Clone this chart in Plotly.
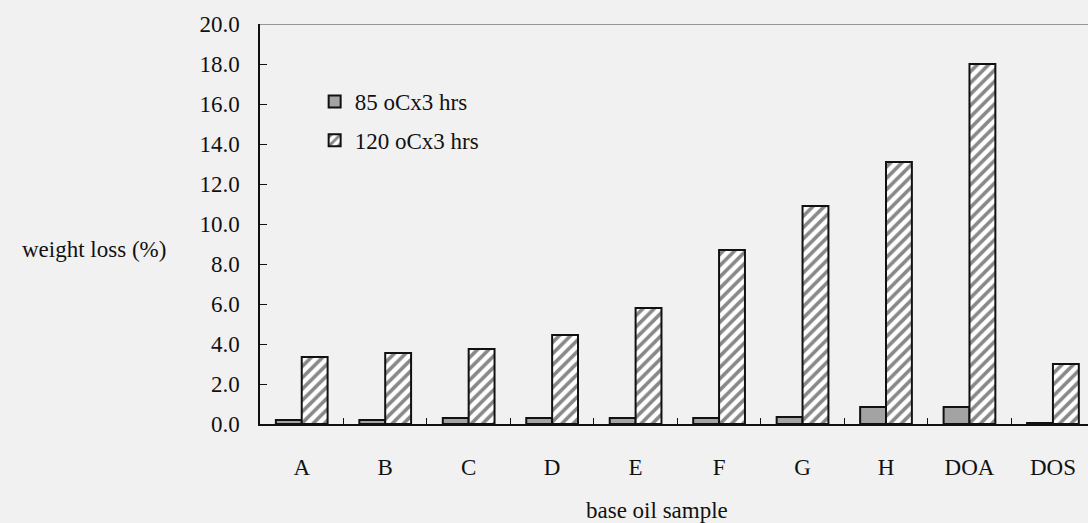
import plotly.graph_objects as go

samples = ["A", "B", "C", "D", "E", "F", "G", "H", "DOA", "DOS"]
loss_85 = [0.2, 0.2, 0.3, 0.3, 0.3, 0.3, 0.35, 0.85, 0.85, 0.05]
loss_120 = [3.35, 3.55, 3.75, 4.45, 5.8, 8.7, 10.9, 13.1, 18.0, 3.0]
y_ticks = [0, 2, 4, 6, 8, 10, 12, 14, 16, 18, 20]

FONT = "Liberation Serif"
FS = 23
BG = "#f1f1f1"
INK = "#111111"

fig = go.Figure()
fig.add_trace(go.Bar(
    x=samples, y=loss_85, name="85 oCx3 hrs", legendgroup="a",
    marker=dict(color="#a3a3a3", line=dict(color=INK, width=2)),
))
fig.add_trace(go.Bar(
    x=samples, y=loss_120, name="120 oCx3 hrs", legendgroup="b",
    marker=dict(color="white", line=dict(color=INK, width=2),
                pattern=dict(shape="/", size=8, solidity=0.45,
                             fgcolor=INK, bgcolor="white")),
))

# top border of the plot area
fig.add_shape(type="line", xref="paper", yref="y", x0=0, x1=1, y0=20, y1=20,
              line=dict(color="#777777", width=1.5))

fig.add_annotation(text="weight loss (%)", xref="paper", yref="paper",
                   x=-0.111, y=0.4375, xanchor="right", yanchor="middle",
                   showarrow=False, font=dict(family=FONT, size=FS, color=INK))
fig.add_annotation(text="base oil sample", xref="paper", yref="paper",
                   x=0.48, y=-0.215, xanchor="center", yanchor="middle",
                   showarrow=False, font=dict(family=FONT, size=FS, color=INK))

fig.update_layout(
    width=1088, height=523,
    margin=dict(l=260, r=0, t=24, b=99),
    paper_bgcolor=BG, plot_bgcolor=BG,
    barmode="group", bargap=0.38, bargroupgap=0,
    font=dict(family=FONT, size=FS, color=INK),
    showlegend=True,
    legend=dict(x=0.066, y=0.86, xanchor="left", yanchor="top",
                bgcolor="rgba(0,0,0,0)", traceorder="grouped",
                tracegroupgap=6, itemwidth=30,
                font=dict(family=FONT, size=FS, color=INK)),
    xaxis=dict(range=[-0.5, 9.42], showgrid=False, showline=True,
               linecolor=INK, linewidth=1.5,
               ticks="inside", tickson="boundaries", ticklen=6,
               tickcolor=INK, ticklabelstandoff=22,
               tickfont=dict(family=FONT, size=FS)),
    yaxis=dict(range=[0, 20], tickvals=y_ticks,
               ticktext=[f"{v:.1f}" for v in y_ticks],
               showgrid=False, zeroline=False, showline=True,
               linecolor=INK, linewidth=1.5,
               ticks="inside", ticklen=7, tickcolor=INK,
               ticklabelstandoff=14,
               tickfont=dict(family=FONT, size=FS)),
)

fig.write_html(
    "out.html",
    config={"displayModeBar": False},
    post_script="document.body.style.margin='0';document.body.style.background='%s';" % BG,
)
